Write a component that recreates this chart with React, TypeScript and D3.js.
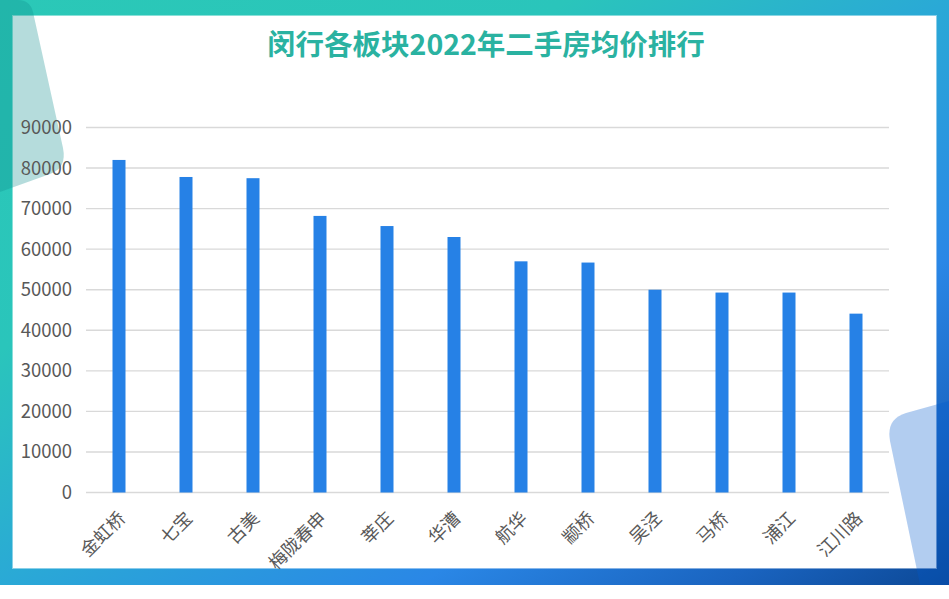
import React from "react";
import * as d3 from "d3";

const categories = ["金虹桥", "七宝", "古美", "梅陇春申", "莘庄", "华漕", "航华", "颛桥", "吴泾", "马桥", "浦江", "江川路"];
const prices = [82000, 77800, 77500, 68200, 65700, 63000, 57000, 56700, 50000, 49300, 49300, 44100];
const yTicks = [0, 10000, 20000, 30000, 40000, 50000, 60000, 70000, 80000, 90000];
const title = "闵行各板块2022年二手房均价排行";

const W = 949;
const H = 599;
const FONT = "'Microsoft YaHei', 'Noto Sans CJK SC', 'Noto Sans', sans-serif";

export default function App() {
  const x = d3.scaleBand<string>().domain(categories).range([85.5, 889.5]).padding(0);
  const y = d3.scaleLinear().domain([0, 90000]).range([492.5, 127.5]);
  const barW = 13;

  return (
    <svg
      width={W}
      height={H}
      viewBox={`0 0 ${W} ${H}`}
      style={{ position: "absolute", left: 0, top: 0, background: "#fff" }}
    >
      <defs>
        <linearGradient id="frameGrad" x1="0" y1="0" x2="1" y2="1">
          <stop offset="0" stopColor="#2bc8b7" />
          <stop offset="0.3" stopColor="#2ac5bb" />
          <stop offset="0.5" stopColor="#2aa9d6" />
          <stop offset="0.72" stopColor="#2a87e6" />
          <stop offset="0.88" stopColor="#1a64c0" />
          <stop offset="1" stopColor="#0c4896" />
        </linearGradient>
        <clipPath id="frameClip">
          <rect x={0} y={0} width={W} height={585} />
        </clipPath>
      </defs>
      <rect x={0} y={0} width={W} height={585} fill="url(#frameGrad)" />
      <rect x={13} y={16} width={923} height={552} fill="#ffffff" stroke="rgba(255,255,255,0.45)" strokeWidth={2} />
      <g clipPath="url(#frameClip)">
        <path d="M 0 0 L 18 0 Q 30 0 33 12 L 63 148 Q 67 168 50 174 L 0 192 Z" fill="rgb(16,142,142)" fillOpacity={0.31} />
        <path d="M 949 401 L 906 413 Q 886 419 890 441 L 923 599 L 949 599 Z" fill="rgb(0,88,205)" fillOpacity={0.3} />
      </g>

      <text x={486} y={55} textAnchor="middle" fontFamily={FONT} fontWeight="bold" fontSize={28.5} fill="#2ab2a1">
        {title}
      </text>

      <g>
        {yTicks.map((t) => (
          <g key={t}>
            <line x1={86} x2={889} y1={y(t)} y2={y(t)} stroke="#d9d9d9" strokeWidth={1.4} />
            <text x={72} y={y(t)} dy="0.35em" textAnchor="end" fontFamily={FONT} fontSize={18.5} fill="#595959">
              {t}
            </text>
          </g>
        ))}
      </g>

      <g>
        {categories.map((c, i) => {
          const cx = (x(c) as number) + x.bandwidth() / 2;
          return (
            <rect key={c} x={cx - barW / 2} y={y(prices[i])} width={barW} height={y(0) - y(prices[i])} fill="#2681e6" />
          );
        })}
      </g>

      <g>
        {categories.map((c) => {
          const cx = (x(c) as number) + x.bandwidth() / 2;
          return (
            <text
              key={c}
              transform={`translate(${cx + 3},${515}) rotate(-45)`}
              textAnchor="end"
              dy="0.35em"
              fontFamily={FONT}
              fontSize={18}
              fill="#595959"
            >
              {c}
            </text>
          );
        })}
      </g>
    </svg>
  );
}
